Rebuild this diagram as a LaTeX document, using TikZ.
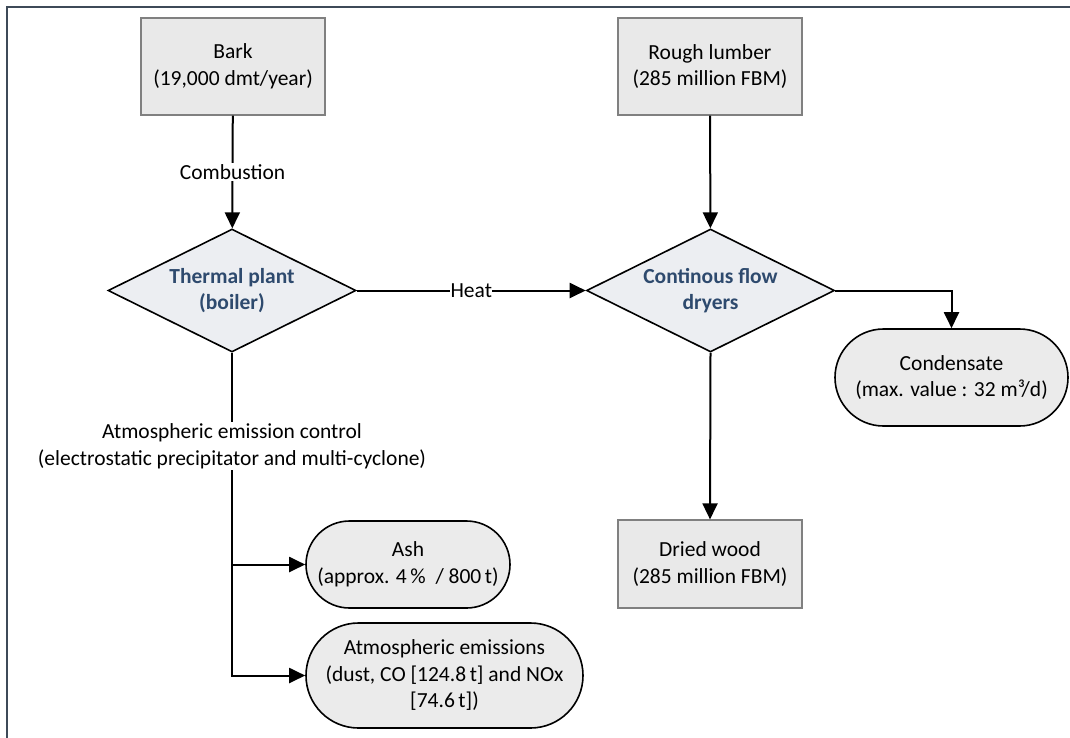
\documentclass[tikz,border=0pt]{standalone}
\usepackage{fontspec}
\setmainfont{Carlito}
\usetikzlibrary{shapes.geometric,shapes.misc,arrows.meta}
\definecolor{framec}{HTML}{3E4A58}
\definecolor{boxfill}{HTML}{E9E9E9}
\definecolor{boxline}{HTML}{808080}
\definecolor{decfill}{HTML}{ECEEF2}
\definecolor{dectext}{HTML}{2E4A6E}
\definecolor{termfill}{HTML}{EBEBEB}
\tikzset{
  every node/.style={font=\fontsize{21.5}{26.5}\selectfont, align=center},
  databox/.style={rectangle, draw=boxline, fill=boxfill, line width=1.2pt, inner sep=0pt, minimum width=184pt},
  decbox/.style={diamond, aspect=2, draw=black, fill=decfill, line width=1.6pt, inner sep=0pt,
    minimum width=248pt, minimum height=123pt, text=dectext, font=\fontsize{21.5}{26.5}\selectfont\bfseries},
  termbox/.style={rounded rectangle, draw=black, fill=termfill, line width=1.6pt, inner sep=0pt},
  flow/.style={line width=2pt, -{Triangle[length=16pt,width=15pt]}},
  lbl/.style={fill=white, inner sep=1.5pt}
}
\begin{document}
\begin{tikzpicture}[x=1pt,y=-1pt]
\useasboundingbox (0,0) rectangle (1070,737);
\draw[framec, line width=2pt] (6.5,740) -- (6.5,6.5) -- (1075,6.5);

\node[databox, minimum height=97pt] (bark) at (233,66.5) {Bark\\(19,000 dmt/year)};
\node[databox, minimum height=97pt] (rough) at (710,66.5) {Rough lumber\\(285 million FBM)};
\node[decbox] (thermal) at (232,290.5) {Thermal plant\\(boiler)};
\node[decbox] (dryers) at (710.5,290.5) {Continous flow\\dryers};
\node[termbox, minimum width=233pt, minimum height=97pt] (cond) at (951.5,377.5) {Condensate\\(max. value : 32 m³/d)};
\node[databox, minimum height=88pt] (dried) at (710,564) {Dried wood\\(285 million FBM)};
\node[termbox, minimum width=204pt, minimum height=87pt] (ash) at (408,564.5) {Ash\\(approx. 4\,\% \ / 800\,t)};
\node[termbox, minimum width=277pt, minimum height=105pt] (em) at (444.5,675.5) {Atmospheric emissions\\(dust, CO [124.8\,t] and NOx\\{}[74.6\,t])};

\draw[flow] (bark) -- node[lbl] (comb) {Combustion} (thermal);
\draw[flow] (rough) -- (dryers);
\draw[flow] (thermal.east) -- node[lbl, inner sep=0.5pt] (heat) {Heat} (dryers.west);
\draw[flow] (dryers.east) -| (cond.north);
\draw[flow] (dryers.south) -- (dried.north);
\draw[flow] (thermal.south) -- node[lbl, pos=0.29] (ctrl) {Atmospheric emission control\\(electrostatic precipitator and multi-cyclone)} (thermal.south |- em.west) -- (em.west);
\coordinate (split) at (thermal.south |- ash.west);
\draw[flow] (split) -- (ash.west);
\end{tikzpicture}
\end{document}
